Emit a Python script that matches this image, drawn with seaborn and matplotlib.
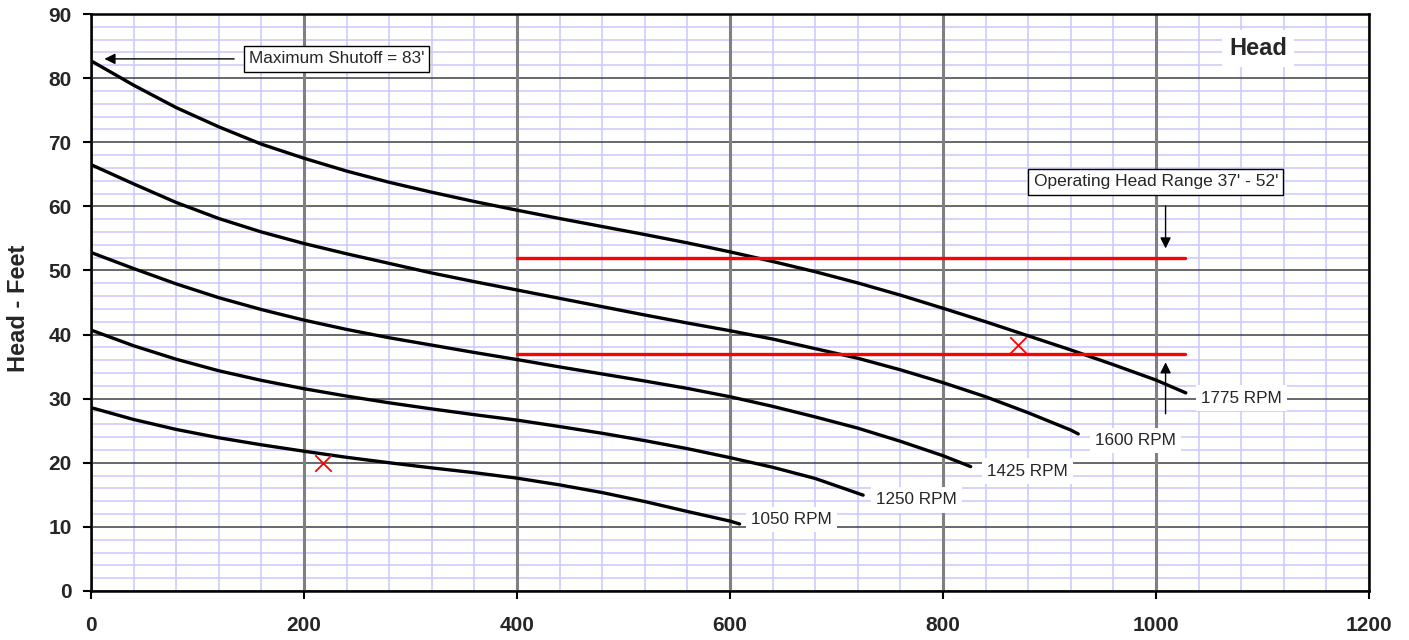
import matplotlib
matplotlib.use("Agg")
import matplotlib.pyplot as plt
import seaborn as sns
import pandas as pd
from matplotlib.ticker import MultipleLocator

# pump curves, flow (GPM) vs head (feet)
flow_1775 = [0, 40, 80, 120, 160, 200, 240, 280, 320, 360, 400, 440, 480, 520,
             560, 600, 640, 680, 720, 760, 800, 840, 880, 920, 960, 1000, 1028]
head_1775 = [82.7, 78.9, 75.4, 72.4, 69.7, 67.5, 65.5, 63.75, 62.2, 60.75, 59.4, 58.1, 56.85, 55.6,
             54.3, 52.9, 51.4, 49.8, 48.05, 46.15, 44.1, 42.0, 39.8, 37.6, 35.3, 32.9, 30.9]

flow_1600 = [0, 40, 80, 120, 160, 200, 240, 280, 320, 360, 400, 440, 480, 520,
             560, 600, 640, 680, 720, 760, 800, 840, 880, 920, 927]
head_1600 = [66.5, 63.5, 60.6, 58.1, 56.0, 54.2, 52.6, 51.1, 49.6, 48.25, 46.95, 45.65, 44.35, 43.05,
             41.8, 40.6, 39.3, 37.8, 36.3, 34.5, 32.5, 30.3, 27.8, 25.1, 24.5]

flow_1425 = [0, 40, 80, 120, 160, 200, 240, 280, 320, 360, 400, 440, 480, 520,
             560, 600, 640, 680, 720, 760, 800, 826]
head_1425 = [52.8, 50.3, 47.9, 45.75, 43.9, 42.25, 40.8, 39.5, 38.35, 37.2, 36.1, 34.95, 33.85, 32.75,
             31.6, 30.3, 28.8, 27.15, 25.4, 23.35, 21.1, 19.4]

flow_1250 = [0, 40, 80, 120, 160, 200, 240, 280, 320, 360, 400, 440, 480, 520,
             560, 600, 640, 680, 725]
head_1250 = [40.7, 38.25, 36.15, 34.35, 32.85, 31.55, 30.4, 29.35, 28.4, 27.5, 26.65, 25.65, 24.6, 23.45,
             22.2, 20.8, 19.3, 17.55, 14.95]

flow_1050 = [0, 40, 80, 120, 160, 200, 240, 280, 320, 360, 400, 440, 480, 520,
             560, 600, 609]
head_1050 = [28.6, 26.75, 25.2, 23.9, 22.8, 21.8, 20.85, 20.0, 19.2, 18.45, 17.6, 16.55, 15.35, 13.95,
             12.4, 10.9, 10.45]

rpm_labels = ["1775 RPM", "1600 RPM", "1425 RPM", "1250 RPM", "1050 RPM"]
label_x = [1042, 943, 841, 737, 620]
label_y = [30.1, 23.5, 18.7, 14.2, 11.1]

range_flow = [400, 1027]
range_low = [37, 37]
range_high = [52, 52]

op_flow = [218, 870]
op_head = [20, 38.3]

curves = [(flow_1775, head_1775), (flow_1600, head_1600), (flow_1425, head_1425),
          (flow_1250, head_1250), (flow_1050, head_1050)]
df = pd.concat([pd.DataFrame({"flow": f, "head": h, "rpm": lab})
                for (f, h), lab in zip(curves, rpm_labels)], ignore_index=True)

sns.set_theme(style="white")
plt.rcParams["font.family"] = ["Liberation Sans", "DejaVu Sans"]

fig = plt.figure(figsize=(14.09, 6.4), dpi=100)
ax = fig.add_axes([0.0646, 0.0766, 0.907, 0.9015])

sns.lineplot(data=df, x="flow", y="head", units="rpm", estimator=None, sort=False,
             color="black", lw=2.4, ax=ax, zorder=3)
sns.lineplot(x=range_flow, y=range_high, color="red", lw=2.4, ax=ax, zorder=4)
sns.lineplot(x=range_flow, y=range_low, color="red", lw=2.4, ax=ax, zorder=4)
sns.scatterplot(x=op_flow, y=op_head, marker="x", color="red", s=140, linewidth=1.3,
                ax=ax, zorder=5)

ax.set_xlim(0, 1200)
ax.set_ylim(0, 90)
ax.xaxis.set_major_locator(MultipleLocator(200))
ax.xaxis.set_minor_locator(MultipleLocator(40))
ax.yaxis.set_major_locator(MultipleLocator(10))
ax.yaxis.set_minor_locator(MultipleLocator(2))
ax.set_axisbelow(True)
ax.grid(which="minor", color="#c8c8ff", lw=1.1)
ax.grid(which="major", visible=False)
# major grid drawn by hand so the heavy verticals sit on top of the lavender lines
for yv in ax.get_yticks()[1:-1]:
    ax.axhline(yv, color="#404040", lw=1.1, zorder=1)
for xv in ax.get_xticks()[1:-1]:
    ax.axvline(xv, color="#808080", lw=2.2, zorder=1.5)

ax.tick_params(which="minor", length=0)
ax.tick_params(which="major", direction="out", length=6, width=1.5, color="black",
               labelsize=15, bottom=True, left=True)
ax.tick_params(axis="x", pad=12)
ax.tick_params(axis="y", pad=8)
for lab in ax.get_xticklabels() + ax.get_yticklabels():
    lab.set_fontweight("bold")
for sp in ax.spines.values():
    sp.set_visible(True)
    sp.set_color("black")
    sp.set_linewidth(1.8)
    sp.set_zorder(6)

ax.set_xlabel("")
ax.set_ylabel("Head - Feet", fontsize=17, fontweight="bold")
ax.yaxis.set_label_coords(-0.048, 0.49)

for txt, x, y in zip(rpm_labels, label_x, label_y):
    ax.text(x, y, txt, ha="left", va="center", fontsize=12.3, zorder=6,
            bbox=dict(boxstyle="square,pad=0.3", fc="white", ec="none"))

ax.text(1096, 84.6, "Head", ha="center", va="center", fontsize=17, fontweight="bold",
        zorder=6, bbox=dict(boxstyle="square,pad=0.3", fc="white", ec="none"))

box = dict(boxstyle="square,pad=0.3", fc="white", ec="black", lw=1)
ax.text(148, 83, "Maximum Shutoff = 83'", ha="left", va="center", fontsize=12.3,
        zorder=6, bbox=box)
ax.annotate("", xy=(10, 83), xytext=(137, 83), zorder=6,
            arrowprops=dict(arrowstyle="-|>", color="black", lw=1, mutation_scale=16))

ax.text(885, 63.8, "Operating Head Range 37' - 52'", ha="left", va="center",
        fontsize=12.5, zorder=6, bbox=box)
ax.annotate("", xy=(1009, 53.0), xytext=(1009, 60.5), zorder=6,
            arrowprops=dict(arrowstyle="-|>", color="black", lw=1, mutation_scale=16))
ax.annotate("", xy=(1009, 36.1), xytext=(1009, 27.2), zorder=6,
            arrowprops=dict(arrowstyle="-|>", color="black", lw=1, mutation_scale=16))

fig.savefig("out.png", dpi=100)
plt.close(fig)
